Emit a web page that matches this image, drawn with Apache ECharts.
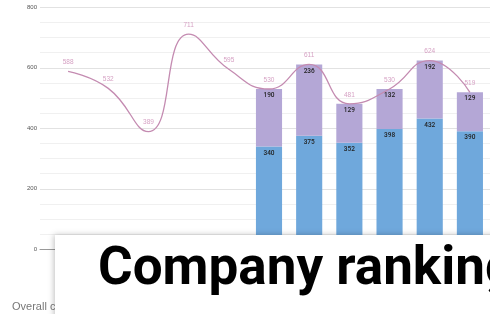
<!DOCTYPE html>
<html>
<head>
<meta charset="utf-8">
<style>
html,body{margin:0;padding:0;background:#fff;}
#chart{width:490px;height:314px;}
</style>
<script src="https://cdn.jsdelivr.net/npm/echarts@6/dist/echarts.min.js"></script>
</head>
<body>
<div id="chart"></div>
<script>
const categories = ['1','2','3','4','5','6','7','8','9','10','11'];
const totalLine = [588, 532, 389, 711, 595, 530, 611, 481, 530, 624, 519];
const baseBars = ['-', '-', '-', '-', '-', 340, 375, 352, 398, 432, 390];
const topBars = ['-', '-', '-', '-', '-', 190, 236, 129, 132, 192, 129];
const yMin = 0, yMax = 800, yStep = 200;
const titleText = 'Company ranking';
const subText = 'Overall company ranking';

const chart = echarts.init(document.getElementById('chart'));
chart.setOption({
  animation: false,
  grid: [
    {left: 40, right: 0, top: 7.3, height: 242},
    {left: 48, right: 0, top: 7.3, height: 242}
  ],
  xAxis: [
    {type: 'category', gridIndex: 0, data: categories, axisLabel: {show: false}, axisTick: {show: false},
     axisLine: {show: true, lineStyle: {color: '#999', width: 1}}},
    {type: 'category', gridIndex: 1, data: categories, show: false}
  ],
  yAxis: [
    {type: 'value', gridIndex: 0, min: yMin, max: yMax, interval: yStep,
     axisLine: {show: false}, axisTick: {show: false},
     axisLabel: {fontSize: 6, color: '#555', margin: 3, fontFamily: 'Liberation Sans'},
     splitLine: {lineStyle: {color: '#e2e2e2'}},
     minorTick: {show: false, splitNumber: 4},
     minorSplitLine: {show: true, lineStyle: {color: '#f0f0f0'}}},
    {type: 'value', gridIndex: 1, min: yMin, max: yMax, interval: yStep, show: false, splitLine: {show: false}}
  ],
  series: [
    {type: 'bar', xAxisIndex: 1, yAxisIndex: 1, stack: 's', data: baseBars, barWidth: '65%',
     itemStyle: {color: '#6fa8dc'},
     label: {show: true, position: 'insideTop', fontSize: 6.5, color: '#222', fontFamily: 'Roboto', fontWeight: 500, distance: 3}},
    {type: 'bar', xAxisIndex: 1, yAxisIndex: 1, stack: 's', data: topBars, barWidth: '65%',
     itemStyle: {color: '#b4a7d6'},
     label: {show: true, position: 'insideTop', fontSize: 6.5, color: '#222', fontFamily: 'Roboto', fontWeight: 500, distance: 3}},
    {type: 'line', xAxisIndex: 1, yAxisIndex: 1, data: totalLine, smooth: true, z: 5,
     symbol: 'circle', symbolSize: 1, itemStyle: {color: 'rgba(0,0,0,0)'},
     lineStyle: {color: '#c48bb1', width: 1.3},
     label: {show: true, position: 'top', fontSize: 6.5, color: '#d6a2c4', fontFamily: 'Liberation Sans', distance: 5}}
  ],
  graphic: [
    {type: 'text', left: 12, top: 301, z: 50,
     style: {text: subText, fontSize: 11, fill: '#777', fontFamily: 'Liberation Sans'}},
    {type: 'rect', left: 55, top: 235, z: 60,
     shape: {width: 470, height: 100},
     style: {fill: '#fff', shadowBlur: 6, shadowColor: 'rgba(0,0,0,0.25)', shadowOffsetX: -1}},
    {type: 'text', left: 98, top: 244, z: 70,
     style: {text: titleText, fontSize: 53, fontWeight: 'bold', fill: '#000', fontFamily: 'Roboto'}}
  ]
});
</script>
</body>
</html>
